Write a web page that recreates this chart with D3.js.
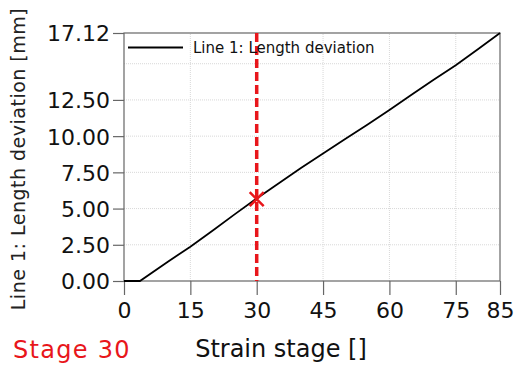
<!DOCTYPE html>
<html><head><meta charset="utf-8">
<script src="https://cdn.jsdelivr.net/npm/d3@7"></script>
<style>html,body{margin:0;padding:0;background:#fff;}svg{display:block;}</style>
</head><body>
<script>
const stages = [0, 3.6, 10, 15, 20, 25, 30, 35, 40, 45, 50, 55, 60, 65, 70, 75, 80, 85];
const deviation = [0, 0, 1.35, 2.37, 3.47, 4.6, 5.7, 6.75, 7.8, 8.8, 9.8, 10.78, 11.8, 12.85, 13.9, 14.9, 16.0, 17.12];
const xTicks = [0, 15, 30, 45, 60, 75, 85];
const xGrid = [15, 45, 60, 75];
const yTicks = [0, 2.5, 5, 7.5, 10, 12.5, 17.12];
const yGrid = [2.5, 5, 7.5, 10, 12.5, 15];
const currentStage = 30;
const currentValue = 5.65;
const legendLabel = "Line 1: Length deviation";
const xTitle = "Strain stage []";
const yTitle = "Line 1: Length deviation [mm]";
const stageLabel = "Stage 30";

const W = 518, H = 365;
const m = {left: 124, right: 18, top: 33, bottom: 84};
const svg = d3.select("body").append("svg").attr("width", W).attr("height", H);
const x = d3.scaleLinear().domain([0, 85]).range([m.left, W - m.right]);
const y = d3.scaleLinear().domain([0, 17.12]).range([H - m.bottom, m.top]);
const font = "DejaVu Sans, Verdana, sans-serif";
const axisCol = "#666";

// grid
svg.append("g").selectAll("line").data(xGrid).join("line")
  .attr("x1", d => x(d)).attr("x2", d => x(d)).attr("y1", y(0)).attr("y2", y(17.12))
  .attr("stroke", "#d8d8d8").attr("stroke-dasharray", "1,1");
svg.append("g").selectAll("line").data(yGrid).join("line")
  .attr("y1", d => y(d)).attr("y2", d => y(d)).attr("x1", x(0)).attr("x2", x(85))
  .attr("stroke", "#d8d8d8").attr("stroke-dasharray", "1,1");

// frame
svg.append("rect").attr("x", x(0)).attr("y", y(17.12)).attr("width", x(85) - x(0)).attr("height", y(0) - y(17.12))
  .attr("fill", "none").attr("stroke", axisCol).attr("stroke-width", 1.2);

// axes
const xa = svg.append("g").attr("transform", `translate(0,${y(0)})`)
  .call(d3.axisBottom(x).tickValues(xTicks).tickFormat(d3.format("d")).tickSize(14).tickPadding(7));
const ya = svg.append("g").attr("transform", `translate(${x(0)},0)`)
  .call(d3.axisLeft(y).tickValues(yTicks).tickFormat(d3.format(".2f")).tickSize(11).tickPadding(3));
[xa, ya].forEach(a => {
  a.select(".domain").remove();
  a.selectAll(".tick line").attr("stroke", axisCol).attr("stroke-width", 1.2);
  a.selectAll("text").attr("fill", "#111").style("font-family", font).style("font-size", "22px");
});
ya.selectAll("text").attr("dy", "0.36em");

// data line
const line = d3.line().x((d, i) => x(stages[i])).y(d => y(d));
svg.append("path").datum(deviation).attr("d", line)
  .attr("fill", "none").attr("stroke", "#000").attr("stroke-width", 1.8);

// current stage marker
svg.append("line").attr("x1", x(currentStage)).attr("x2", x(currentStage))
  .attr("y1", y(17.12)).attr("y2", y(0))
  .attr("stroke", "#e8161b").attr("stroke-width", 3.5).attr("stroke-dasharray", "9,4");
const cx = x(currentStage), cy = y(currentValue), s = 7;
svg.append("path").attr("d", `M${cx - s},${cy - s}L${cx + s},${cy + s}M${cx - s},${cy + s}L${cx + s},${cy - s}`)
  .attr("stroke", "#e8161b").attr("stroke-width", 2.5);

// legend
svg.append("line").attr("x1", 128).attr("x2", 183).attr("y1", 47.5).attr("y2", 47.5)
  .attr("stroke", "#000").attr("stroke-width", 1.8);
svg.append("text").attr("x", 193).attr("y", 53).text(legendLabel)
  .style("font-family", font).style("font-size", "15px").attr("fill", "#111");

// titles
svg.append("text").attr("x", 281).attr("y", 357).attr("text-anchor", "middle").text(xTitle)
  .style("font-family", font).style("font-size", "24px").attr("fill", "#111");
svg.append("text").attr("transform", "translate(25,159) rotate(-90)").attr("text-anchor", "middle").text(yTitle)
  .style("font-family", font).style("font-size", "19px").style("letter-spacing", "0.5px").attr("fill", "#222");
svg.append("text").attr("x", 13).attr("y", 358).text(stageLabel)
  .style("font-family", font).style("font-size", "24px").style("letter-spacing", "1.3px").attr("fill", "#e8161b");
</script>
</body></html>
